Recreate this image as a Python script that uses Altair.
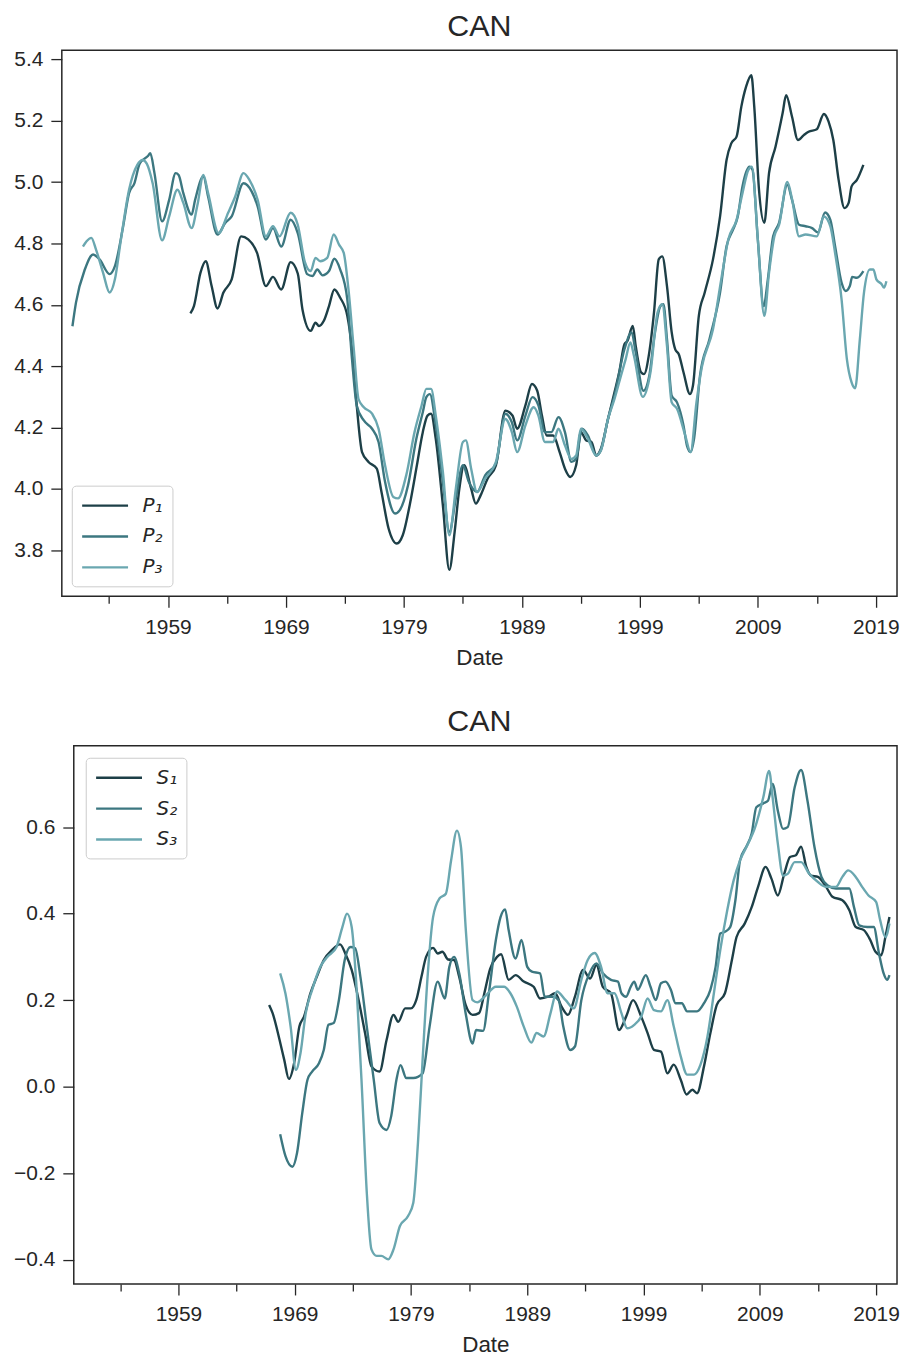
import altair as alt
import pandas as pd

# ---------------- data ----------------
P_NAMES = ["P₁", "P₂", "P₃"]
S_NAMES = ["S₁", "S₂", "S₃"]

P1_year = [1960.9, 1961.2, 1961.75, 1962.2, 1962.7, 1963.2, 1963.7, 1964.4, 1965.2, 1965.8, 1966.55, 1967.3, 1967.9, 1968.6, 1969.4, 1970.0, 1970.4, 1971.1, 1971.5, 1971.8, 1972.2, 1972.65, 1973.1, 1973.6, 1974.2, 1974.6, 1975.0, 1975.45, 1976.0, 1976.7, 1977.1, 1977.7, 1978.4, 1978.9, 1979.6, 1980.1, 1980.6, 1981.0, 1981.3, 1981.7, 1982.3, 1982.85, 1983.3, 1983.7, 1984.1, 1984.7, 1985.1, 1985.5, 1986.1, 1986.8, 1987.6, 1988.2, 1988.6, 1989.3, 1989.85, 1990.3, 1990.7, 1991.1, 1991.65, 1992.2, 1992.65, 1993.1, 1993.6, 1994.0, 1994.45, 1994.9, 1995.3, 1995.7, 1996.3, 1996.85, 1997.25, 1997.7, 1997.95, 1998.4, 1998.65, 1999.1, 1999.35, 1999.8, 2000.2, 2000.6, 2000.9, 2001.3, 2001.7, 2002.0, 2002.3, 2002.7, 2003.25, 2003.5, 2004.0, 2004.5, 2005.2, 2005.8, 2006.35, 2006.75, 2007.2, 2007.6, 2008.0, 2008.45, 2008.7, 2009.1, 2009.55, 2009.95, 2010.5, 2011.1, 2011.4, 2011.9, 2012.4, 2012.9, 2013.3, 2014.0, 2014.6, 2015.0, 2015.4, 2015.85, 2016.35, 2016.7, 2016.95, 2017.4, 2017.95]
P1_val = [4.572, 4.596, 4.704, 4.742, 4.661, 4.588, 4.640, 4.683, 4.823, 4.813, 4.769, 4.661, 4.691, 4.650, 4.739, 4.702, 4.585, 4.515, 4.542, 4.531, 4.547, 4.596, 4.650, 4.623, 4.564, 4.456, 4.272, 4.120, 4.088, 4.066, 3.990, 3.871, 3.822, 3.849, 3.969, 4.077, 4.185, 4.239, 4.245, 4.163, 3.947, 3.736, 3.860, 4.001, 4.077, 4.001, 3.952, 3.979, 4.034, 4.077, 4.255, 4.239, 4.196, 4.272, 4.342, 4.320, 4.239, 4.174, 4.174, 4.120, 4.066, 4.039, 4.077, 4.185, 4.158, 4.153, 4.109, 4.131, 4.228, 4.315, 4.380, 4.472, 4.482, 4.531, 4.466, 4.380, 4.374, 4.445, 4.575, 4.748, 4.758, 4.661, 4.510, 4.455, 4.439, 4.380, 4.309, 4.336, 4.564, 4.640, 4.748, 4.888, 5.072, 5.126, 5.148, 5.245, 5.310, 5.348, 5.245, 4.975, 4.867, 5.029, 5.115, 5.224, 5.283, 5.213, 5.137, 5.153, 5.164, 5.172, 5.222, 5.197, 5.137, 5.007, 4.915, 4.932, 4.986, 5.007, 5.056]

P2_year = [1950.9, 1951.2, 1951.95, 1952.65, 1953.2, 1954.05, 1954.5, 1955.2, 1955.7, 1956.15, 1956.6, 1957.3, 1957.5, 1957.85, 1958.5, 1959.1, 1959.65, 1959.9, 1960.3, 1961.0, 1961.3, 1962.0, 1962.4, 1963.2, 1963.85, 1964.4, 1965.4, 1966.1, 1966.6, 1967.3, 1967.9, 1968.6, 1969.4, 1970.0, 1970.8, 1971.25, 1971.65, 1972.1, 1972.65, 1973.1, 1973.6, 1974.2, 1974.6, 1975.0, 1975.6, 1976.3, 1976.85, 1977.4, 1978.25, 1978.65, 1979.35, 1980.05, 1980.6, 1980.9, 1981.2, 1981.7, 1982.3, 1982.85, 1983.4, 1984.0, 1984.5, 1985.2, 1985.9, 1986.8, 1987.6, 1988.15, 1988.6, 1989.3, 1989.9, 1990.4, 1990.95, 1991.5, 1992.1, 1992.65, 1993.2, 1993.6, 1994.1, 1994.6, 1995.3, 1995.7, 1996.3, 1996.85, 1997.7, 1998.3, 1998.65, 1999.3, 1999.8, 2000.2, 2000.75, 2001.0, 2001.3, 2001.7, 2002.15, 2002.7, 2003.0, 2003.3, 2003.6, 2004.1, 2004.9, 2005.8, 2006.35, 2006.9, 2007.3, 2007.7, 2008.3, 2008.55, 2009.0, 2009.5, 2009.85, 2010.3, 2010.8, 2011.5, 2011.9, 2012.5, 2013.05, 2013.6, 2014.1, 2014.7, 2015.15, 2015.55, 2016.1, 2016.45, 2016.8, 2017.0, 2017.4, 2017.95]
P2_val = [4.530, 4.607, 4.715, 4.764, 4.748, 4.700, 4.726, 4.856, 4.964, 4.996, 5.060, 5.085, 5.094, 5.030, 4.872, 4.942, 5.029, 5.023, 4.964, 4.894, 4.942, 5.018, 4.953, 4.829, 4.867, 4.888, 4.996, 4.969, 4.921, 4.813, 4.850, 4.790, 4.877, 4.834, 4.700, 4.694, 4.715, 4.696, 4.710, 4.750, 4.715, 4.618, 4.423, 4.272, 4.223, 4.196, 4.153, 4.023, 3.920, 3.931, 4.012, 4.163, 4.250, 4.299, 4.309, 4.207, 4.023, 3.860, 3.969, 4.077, 4.023, 3.990, 4.045, 4.082, 4.245, 4.217, 4.158, 4.239, 4.299, 4.272, 4.185, 4.185, 4.234, 4.185, 4.088, 4.098, 4.196, 4.174, 4.109, 4.126, 4.228, 4.304, 4.456, 4.510, 4.445, 4.320, 4.369, 4.488, 4.596, 4.602, 4.488, 4.304, 4.282, 4.207, 4.140, 4.120, 4.165, 4.369, 4.488, 4.640, 4.791, 4.845, 4.888, 4.986, 5.050, 5.040, 4.813, 4.596, 4.683, 4.823, 4.867, 4.991, 4.942, 4.861, 4.856, 4.850, 4.836, 4.901, 4.877, 4.791, 4.672, 4.645, 4.661, 4.691, 4.688, 4.710]

P3_year = [1951.8, 1952.1, 1952.5, 1952.9, 1953.5, 1954.05, 1954.5, 1955.0, 1955.7, 1956.4, 1956.85, 1957.2, 1957.7, 1958.5, 1959.1, 1959.8, 1960.3, 1961.0, 1961.5, 1962.0, 1962.4, 1963.3, 1964.1, 1964.7, 1965.4, 1965.9, 1966.6, 1967.3, 1967.9, 1968.45, 1969.4, 1970.0, 1970.6, 1971.1, 1971.5, 1971.9, 1972.5, 1973.05, 1973.5, 1973.9, 1974.3, 1974.75, 1975.15, 1975.6, 1976.3, 1976.85, 1977.4, 1978.1, 1978.5, 1979.2, 1979.9, 1980.5, 1980.9, 1981.3, 1981.7, 1982.3, 1982.85, 1983.4, 1984.0, 1984.25, 1984.7, 1985.2, 1985.9, 1986.8, 1987.6, 1988.15, 1988.6, 1989.3, 1990.0, 1990.4, 1990.95, 1991.65, 1992.1, 1992.65, 1993.2, 1993.6, 1994.0, 1994.6, 1995.3, 1995.7, 1996.3, 1996.85, 1997.4, 1997.8, 1998.2, 1998.5, 1999.25, 1999.9, 2000.5, 2000.9, 2001.3, 2001.7, 2002.15, 2002.85, 2003.3, 2003.8, 2004.25, 2005.2, 2005.9, 2006.5, 2007.2, 2007.7, 2008.2, 2008.5, 2009.0, 2009.55, 2009.95, 2010.4, 2010.8, 2011.5, 2011.9, 2012.5, 2013.05, 2014.0, 2014.6, 2015.15, 2015.55, 2016.1, 2016.55, 2016.95, 2017.25, 2017.65, 2018.0, 2018.5, 2018.8, 2019.05, 2019.5, 2019.7, 2019.9]
P3_val = [4.790, 4.807, 4.818, 4.780, 4.704, 4.640, 4.683, 4.810, 4.975, 5.056, 5.072, 5.060, 4.996, 4.810, 4.888, 4.975, 4.932, 4.850, 4.926, 5.023, 4.964, 4.834, 4.900, 4.953, 5.029, 5.007, 4.942, 4.823, 4.856, 4.823, 4.900, 4.861, 4.740, 4.710, 4.753, 4.742, 4.753, 4.829, 4.796, 4.769, 4.650, 4.456, 4.293, 4.266, 4.245, 4.196, 4.077, 3.974, 3.969, 4.045, 4.185, 4.272, 4.326, 4.326, 4.239, 4.056, 3.849, 4.001, 4.153, 4.158, 4.066, 3.990, 4.034, 4.088, 4.228, 4.185, 4.120, 4.207, 4.266, 4.239, 4.153, 4.153, 4.196, 4.142, 4.098, 4.109, 4.196, 4.163, 4.109, 4.126, 4.228, 4.293, 4.369, 4.423, 4.477, 4.434, 4.300, 4.380, 4.575, 4.602, 4.466, 4.282, 4.261, 4.174, 4.120, 4.282, 4.396, 4.520, 4.683, 4.813, 4.877, 4.964, 5.040, 5.050, 4.813, 4.564, 4.704, 4.823, 4.860, 5.000, 4.945, 4.823, 4.829, 4.823, 4.888, 4.856, 4.769, 4.618, 4.423, 4.347, 4.328, 4.488, 4.640, 4.715, 4.715, 4.683, 4.667, 4.656, 4.677]

S1_year = [1966.8, 1967.1, 1967.7, 1968.1, 1968.5, 1968.95, 1969.4, 1969.8, 1970.35, 1970.9, 1971.5, 1972.2, 1972.9, 1973.35, 1973.9, 1974.5, 1975.05, 1975.6, 1976.3, 1976.9, 1977.5, 1977.9, 1978.5, 1979.0, 1979.45, 1979.9, 1980.3, 1980.9, 1981.3, 1981.7, 1982.2, 1982.7, 1983.15, 1983.7, 1984.3, 1984.85, 1985.3, 1985.8, 1986.4, 1986.75, 1987.4, 1988.0, 1988.7, 1989.55, 1990.1, 1990.8, 1991.4, 1991.95, 1992.5, 1993.1, 1993.8, 1994.4, 1994.95, 1995.5, 1996.2, 1996.9, 1997.5, 1998.1, 1998.8, 1999.35, 1999.9, 2000.5, 2001.05, 2001.6, 2002.2, 2002.7, 2003.2, 2003.6, 2004.2, 2004.75, 2005.3, 2006.0, 2006.6, 2007.0, 2007.7, 2008.3, 2008.85, 2009.5, 2010.0, 2010.55, 2011.1, 2011.6, 2012.1, 2012.55, 2013.0, 2013.4, 2014.0, 2014.7, 2015.25, 2016.1, 2016.7, 2017.25, 2017.95, 2018.5, 2018.95, 2019.45, 2019.8, 2020.15]
S1_val = [0.189, 0.170, 0.108, 0.062, 0.018, 0.055, 0.139, 0.162, 0.216, 0.254, 0.293, 0.316, 0.329, 0.308, 0.270, 0.200, 0.124, 0.047, 0.035, 0.108, 0.166, 0.150, 0.181, 0.181, 0.200, 0.254, 0.300, 0.321, 0.308, 0.312, 0.294, 0.293, 0.254, 0.189, 0.166, 0.170, 0.215, 0.272, 0.300, 0.306, 0.247, 0.258, 0.243, 0.231, 0.204, 0.208, 0.216, 0.185, 0.166, 0.208, 0.270, 0.250, 0.281, 0.231, 0.216, 0.131, 0.162, 0.200, 0.162, 0.124, 0.085, 0.081, 0.031, 0.051, 0.016, -0.018, -0.007, -0.015, 0.047, 0.124, 0.189, 0.216, 0.293, 0.346, 0.377, 0.415, 0.462, 0.508, 0.481, 0.442, 0.492, 0.531, 0.535, 0.555, 0.508, 0.488, 0.485, 0.462, 0.439, 0.431, 0.408, 0.369, 0.362, 0.339, 0.312, 0.304, 0.346, 0.392]

S2_year = [1967.75, 1968.2, 1968.8, 1969.2, 1969.65, 1970.1, 1970.5, 1971.1, 1971.5, 1971.9, 1972.35, 1972.8, 1973.3, 1973.8, 1974.2, 1974.65, 1975.2, 1975.8, 1976.3, 1976.9, 1977.3, 1977.75, 1978.1, 1978.6, 1979.2, 1980.0, 1980.6, 1981.3, 1981.9, 1982.3, 1982.7, 1983.15, 1983.7, 1984.3, 1984.6, 1985.2, 1985.7, 1986.3, 1986.7, 1987.1, 1987.4, 1988.0, 1988.5, 1989.0, 1989.4, 1990.1, 1990.5, 1991.25, 1991.7, 1992.1, 1992.7, 1993.1, 1993.65, 1994.35, 1994.95, 1995.5, 1996.2, 1996.8, 1997.1, 1997.5, 1997.9, 1998.2, 1998.5, 1999.2, 1999.6, 2000.05, 2000.5, 2000.9, 2001.35, 2001.75, 2002.3, 2002.75, 2003.6, 2004.2, 2004.75, 2005.2, 2005.6, 2006.0, 2006.45, 2006.9, 2007.3, 2007.9, 2008.3, 2008.7, 2009.3, 2009.7, 2010.1, 2010.55, 2011.0, 2011.4, 2012.0, 2012.55, 2013.1, 2013.7, 2014.3, 2014.85, 2015.55, 2016.7, 2017.1, 2017.55, 2018.25, 2018.8, 2019.25, 2019.65, 2019.95, 2020.15]
S2_val = [-0.110, -0.160, -0.185, -0.153, -0.061, 0.016, 0.035, 0.055, 0.085, 0.143, 0.147, 0.200, 0.293, 0.323, 0.320, 0.254, 0.139, 0.016, -0.084, -0.100, -0.068, 0.016, 0.050, 0.020, 0.020, 0.031, 0.139, 0.243, 0.204, 0.277, 0.300, 0.262, 0.170, 0.100, 0.131, 0.129, 0.216, 0.339, 0.392, 0.410, 0.362, 0.296, 0.339, 0.277, 0.266, 0.262, 0.208, 0.208, 0.200, 0.139, 0.085, 0.093, 0.200, 0.262, 0.285, 0.262, 0.247, 0.243, 0.216, 0.208, 0.231, 0.243, 0.224, 0.258, 0.231, 0.200, 0.239, 0.243, 0.224, 0.193, 0.193, 0.174, 0.174, 0.193, 0.224, 0.277, 0.354, 0.358, 0.369, 0.431, 0.523, 0.558, 0.585, 0.646, 0.655, 0.661, 0.700, 0.638, 0.596, 0.600, 0.692, 0.732, 0.661, 0.554, 0.485, 0.465, 0.458, 0.458, 0.415, 0.373, 0.369, 0.369, 0.308, 0.262, 0.247, 0.258]

S3_year = [1967.75, 1968.2, 1968.65, 1969.1, 1969.5, 1969.95, 1970.5, 1971.2, 1971.8, 1972.6, 1973.1, 1973.5, 1973.9, 1974.35, 1974.8, 1975.2, 1975.6, 1976.05, 1976.45, 1977.05, 1977.5, 1978.05, 1978.75, 1979.2, 1979.6, 1980.0, 1980.45, 1980.9, 1981.45, 1982.0, 1982.45, 1982.95, 1983.3, 1983.7, 1984.3, 1984.7, 1985.4, 1986.3, 1987.0, 1987.55, 1988.1, 1988.7, 1989.35, 1989.8, 1990.4, 1991.0, 1991.55, 1992.3, 1993.0, 1993.65, 1994.2, 1994.8, 1995.35, 1995.9, 1996.5, 1997.1, 1997.6, 1998.2, 1998.8, 1999.35, 1999.9, 2000.5, 2001.05, 2001.6, 2002.2, 2002.75, 2003.35, 2003.9, 2004.5, 2005.05, 2005.6, 2006.2, 2006.75, 2007.3, 2008.0, 2008.55, 2009.3, 2009.8, 2010.1, 2010.55, 2011.0, 2011.4, 2012.0, 2012.55, 2013.25, 2014.0, 2014.7, 2015.55, 2016.1, 2016.6, 2017.25, 2017.8, 2018.35, 2019.0, 2019.35, 2019.8, 2020.15]
S3_val = [0.262, 0.216, 0.139, 0.039, 0.078, 0.170, 0.224, 0.277, 0.300, 0.323, 0.369, 0.400, 0.369, 0.216, -0.015, -0.245, -0.376, -0.391, -0.391, -0.399, -0.376, -0.322, -0.299, -0.268, -0.130, 0.062, 0.262, 0.392, 0.435, 0.446, 0.523, 0.592, 0.554, 0.369, 0.200, 0.195, 0.210, 0.231, 0.231, 0.216, 0.185, 0.139, 0.102, 0.124, 0.116, 0.170, 0.220, 0.200, 0.181, 0.247, 0.293, 0.309, 0.277, 0.216, 0.216, 0.170, 0.135, 0.143, 0.162, 0.204, 0.177, 0.174, 0.200, 0.139, 0.070, 0.028, 0.028, 0.051, 0.116, 0.216, 0.316, 0.408, 0.477, 0.523, 0.562, 0.596, 0.669, 0.730, 0.669, 0.562, 0.488, 0.492, 0.519, 0.519, 0.492, 0.473, 0.462, 0.462, 0.485, 0.500, 0.485, 0.462, 0.442, 0.427, 0.385, 0.346, 0.377]

X_TICKS = [1954, 1959, 1964, 1969, 1974, 1979, 1984, 1989, 1994, 1999, 2004, 2009, 2014, 2019]
P_TICKS = [3.8, 4.0, 4.2, 4.4, 4.6, 4.8, 5.0, 5.2, 5.4]
S_TICKS = [-0.4, -0.2, 0.0, 0.2, 0.4, 0.6]

# ---------------- build tables ----------------
def table(names, years, values):
    rows = []
    for i, (n, ys, vs) in enumerate(zip(names, years, values)):
        for y, v in zip(ys, vs):
            rows.append({"series": n, "order": i, "year": y, "value": v})
    return pd.DataFrame(rows)

df_p = table(P_NAMES, [P1_year, P2_year, P3_year], [P1_val, P2_val, P3_val])
df_s = table(S_NAMES, [S1_year, S2_year, S3_year], [S1_val, S2_val, S3_val])

COLORS = ["#1d3f47", "#3c7780", "#6aa7b0"]
INK = "#262626"
FONT = "Liberation Sans"

Y_EXTENT = 53
W_TOP, H_TOP = 838, 548
W_BOT, H_BOT = 838, 540      # bottom group is as wide as the top one ...
BOT_SHIFT = 12               # ... but its plot area starts 12 px further right


def x_axis():
    return alt.Axis(
        values=X_TICKS,
        format="d",
        labelExpr="datum.value % 10 == 9 ? datum.label : ''",
        tickSize={"condition": {"test": "datum.value % 10 == 9", "value": 11}, "value": 7},
        labelPadding=9,
        titlePadding=9,
        labelFlush=False,
        labelOverlap=False,
    )


def legend(orient, **kw):
    return alt.Legend(
        title=None, orient=orient,
        symbolType="M-1,0L3.8,0", symbolSize=368, symbolStrokeWidth=2.4,
        labelFont="DejaVu Sans", labelFontStyle="italic", labelFontSize=20,
        labelColor=INK, labelOffset=40,
        strokeColor="#cccccc", fillColor="white", cornerRadius=4,
        padding=9, rowPadding=10, **kw,
    )


def title(offset):
    return alt.Title("CAN", fontSize=30.5, font=FONT, color=INK, fontWeight="normal",
                     anchor="middle", offset=offset)


top = (
    alt.Chart(df_p)
    .mark_line(strokeWidth=2.4, interpolate="monotone")
    .encode(
        x=alt.X("year:Q", title="Date",
                scale=alt.Scale(domain=[1950.0, 2020.8], nice=False, zero=False),
                axis=x_axis()),
        y=alt.Y("value:Q", title=None,
                scale=alt.Scale(domain=[3.65, 5.43], nice=False, zero=False),
                axis=alt.Axis(values=P_TICKS, format=".1f", tickSize=11,
                              labelPadding=8, minExtent=Y_EXTENT, maxExtent=Y_EXTENT)),
        color=alt.Color("series:N", scale=alt.Scale(domain=P_NAMES, range=COLORS),
                        legend=legend("bottom-left", offset=10)),
        order=alt.Order("order:Q"),
    )
    .properties(width=W_TOP, height=H_TOP, title=title(6))
)

bot_lines = (
    alt.Chart(df_s)
    .mark_line(strokeWidth=2.4, interpolate="monotone")
    .encode(
        x=alt.X("year:Q", title="Date",
                scale=alt.Scale(domain=[1950.0, 2020.8], range=[BOT_SHIFT, W_BOT],
                                nice=False, zero=False),
                axis=x_axis()),
        y=alt.Y("value:Q", title=None,
                scale=alt.Scale(domain=[-0.456, 0.788], nice=False, zero=False),
                axis=alt.Axis(values=S_TICKS, format=".1f", tickSize=11,
                              labelPadding=8, offset=-BOT_SHIFT)),
        color=alt.Color("series:N", scale=alt.Scale(domain=S_NAMES, range=COLORS),
                        legend=legend("none", legendX=BOT_SHIFT + 12, legendY=12)),
        order=alt.Order("order:Q"),
    )
)

bot_frame = (
    alt.Chart(pd.DataFrame({"k": [0]}))
    .mark_rect(fill="transparent", stroke=INK, strokeWidth=1.5)
    .encode(x=alt.value(BOT_SHIFT), x2=alt.value(W_BOT),
            y=alt.value(0), y2=alt.value(H_BOT))
)

bottom = (
    alt.layer(bot_lines, bot_frame)
    .properties(width=W_BOT, height=H_BOT, title=title(8),
                view=alt.ViewBackground(stroke="transparent"))
)

chart = (
    alt.vconcat(top, bottom, spacing=36)
    .resolve_scale(color="independent")
    .resolve_legend(color="independent")
    .properties(padding={"left": 0, "top": 0, "right": 0, "bottom": 0})
    .configure_view(stroke=INK, strokeWidth=1.5)
    .configure_axis(
        domain=False, grid=False, ticks=True,
        tickColor=INK, tickWidth=1.3,
        labelColor=INK, labelFont=FONT, labelFontSize=21,
        titleColor=INK, titleFont=FONT, titleFontSize=22.5, titleFontWeight="normal",
    )
)

chart.save("out.html", embed_options={"renderer": "svg", "actions": False})
